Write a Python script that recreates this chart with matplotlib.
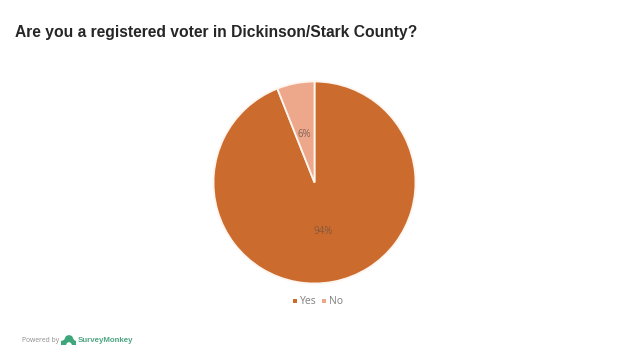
import matplotlib
matplotlib.use('Agg')
import matplotlib.pyplot as plt
from matplotlib.patches import Polygon, Rectangle

categories = ['Yes', 'No']
values = [94, 6]
value_labels = ['94%', '6%']
colors = ['#CB6C2E', '#EDA88C']

plt.rcParams['font.family'] = ['Liberation Sans', 'DejaVu Sans']

W, H = 626.0, 351.0


def px(x, y):
    # pixel position from the top left -> figure fraction
    return x / W, 1 - y / H


fig = plt.figure(figsize=(6.26, 3.51), dpi=100)
fig.patch.set_facecolor('white')

# pie, placed in pixels
cx, cy, r = 314.5, 182.5, 102.0
ax = fig.add_axes([(cx - r) / W, 1 - (cy + r) / H, 2 * r / W, 2 * r / H])
wedges, _ = ax.pie(values, colors=colors, startangle=90, counterclock=False, radius=1.0,
                   wedgeprops=dict(edgecolor='#FDF5EE', linewidth=1.3))
ax.set_xlim(-1.01, 1.01)
ax.set_ylim(-1.01, 1.01)
ax.set_aspect('equal')

ax.text(0.09, -0.49, value_labels[0], ha='center', va='center', fontsize=7, color='#85593C', family='Open Sans')
ax.text(-0.10, 0.48, value_labels[1], ha='center', va='center', fontsize=7, color='#85655A', family='Open Sans')

x, y = px(15, 32)
fig.text(x, y, 'Are you a registered voter in Dickinson/Stark County?',
         fontsize=11.24, fontweight='bold', color='#262626', va='center', ha='left')

# legend
x, y = px(293, 303)
fig.patches.append(Rectangle((x, y), 4 / W, 4 / H, transform=fig.transFigure, facecolor=colors[0]))
x, y = px(300, 301)
fig.text(x, y, categories[0], fontsize=7.5, color='#7F7F7F', va='center', family='Open Sans')
x, y = px(322, 303)
fig.patches.append(Rectangle((x, y), 4 / W, 4 / H, transform=fig.transFigure, facecolor=colors[1]))
x, y = px(329, 301)
fig.text(x, y, categories[1], fontsize=7.5, color='#7F7F7F', va='center', family='Open Sans')

# footer
x, y = px(22, 340.5)
fig.text(x, y, 'Powered by', fontsize=4.9, color='#8C8C8C', va='center', family='Open Sans')
logo = [(61, 345), (61, 341), (64, 340), (66, 336), (69, 335), (72, 336), (74, 340), (76, 341), (76, 345),
        (72, 345), (71, 343), (69, 342), (67, 343), (66, 345)]
fig.patches.append(Polygon([px(a, b) for a, b in logo], transform=fig.transFigure, facecolor='#3FA57A'))
x, y = px(78, 340.5)
fig.text(x, y, 'SurveyMonkey', fontsize=5.65, fontweight='bold', color='#4DA583', va='center')

fig.savefig('out.png', dpi=100)
